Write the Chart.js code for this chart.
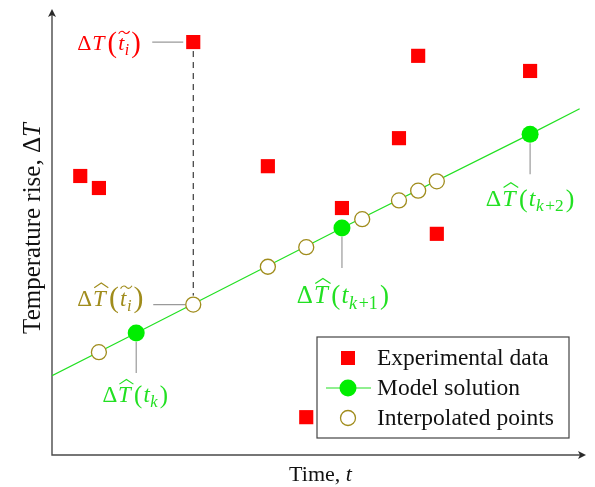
<!DOCTYPE html>
<html>
<head>
<meta charset="utf-8">
<script src="https://cdn.jsdelivr.net/npm/chart.js@4"></script>
<style>
  html, body { margin: 0; padding: 0; background: #fff; }
  #wrap { width: 595px; height: 487px; }
</style>
</head>
<body>
<div id="wrap"><canvas id="chart" width="595" height="487"></canvas></div>
<script>
// measured temperature rise
let expT = [5.3, 8.8, 26.5, 40.5, 47.7, 54.4, 65.1, 68.7, 72.2, 89.7];
let expDT = [62.7, 60.0, 92.8, 64.9, 8.5, 55.5, 71.2, 89.7, 49.7, 86.3];
// model solution (line ends + solver steps t_k, t_k+1, t_k+2)
let modelT = [0, 15.8, 54.4, 89.7, 99];
let modelDT = [17.8, 27.4, 51.0, 72.1, 77.8];
// model interpolated at the measurement times
let interpT = [8.8, 26.5, 40.5, 47.7, 58.2, 65.1, 68.7, 72.2];
let interpDT = [23.1, 33.8, 42.3, 46.7, 53.0, 57.2, 59.4, 61.5];

const legendLabels = ["Experimental data", "Model solution", "Interpolated points"];
const xTitle = "Time, ";
const yTitle = "Temperature rise, Δ";

const SERIF = '"Liberation Serif", "Times New Roman", serif';
const RED = '#ff0000', GREEN = '#00ee00', LINEGREEN = '#22e022', OLIVE = '#a08c1c';

const toXY = (xs, ys) => xs.map((x, i) => ({x: x, y: ys[i]}));

// ΔT(t_i) style labels, with optional hat over T and tilde over t_i
function mathLabel(ctx, x, y, size, color, sub, hat, tilde, center) {
  const big = tilde ? 1.3 : 1.08;
  const pieces = [
    {s: 'Δ', f: `${size}px ${SERIF}`, gap: size * 0.04},
    {s: 'T', f: `italic ${size}px ${SERIF}`, key: 'T', gap: size * 0.14},
    {s: '(', f: `${size * big}px ${SERIF}`, dy: tilde ? size * 0.07 : size * 0.02, gap: size * 0.05},
    {s: 't', f: `italic ${size}px ${SERIF}`, key: 'arg0', gap: size * 0.02}
  ];
  sub.forEach((p, i) => pieces.push({s: p[0], f: `${p[1] ? 'italic ' : ''}${size * 0.72}px ${SERIF}`, dy: size * 0.22,
    pre: p[1] ? 0 : size * 0.04, gap: size * 0.03, key: i === sub.length - 1 ? 'arg1' : null}));
  pieces.push({s: ')', f: `${size * big}px ${SERIF}`, dy: tilde ? size * 0.07 : size * 0.02, pre: size * 0.06});
  ctx.save();
  let w = 0;
  pieces.forEach(p => { ctx.font = p.f; p.w = ctx.measureText(p.s).width; w += p.w + (p.gap || 0) + (p.pre || 0); });
  let cx = center ? x - w / 2 : x;
  const pos = {};
  ctx.fillStyle = color; ctx.strokeStyle = color;
  ctx.textAlign = 'left'; ctx.textBaseline = 'alphabetic';
  pieces.forEach(p => {
    cx += p.pre || 0;
    ctx.font = p.f;
    ctx.fillText(p.s, cx, y + (p.dy || 0));
    if (p.key) pos[p.key] = {x: cx, w: p.w};
    cx += p.w + (p.gap || 0);
  });
  ctx.lineWidth = size * 0.05;
  if (hat) {
    const t = pos.T;
    ctx.beginPath();
    ctx.moveTo(t.x + t.w * 0.1, y - size * 0.78);
    ctx.lineTo(t.x + t.w * 0.65, y - size * 0.98);
    ctx.lineTo(t.x + t.w * 1.2, y - size * 0.78);
    ctx.stroke();
  }
  if (tilde) {
    const x0 = pos.arg0.x + size * 0.02, x1 = pos.arg1.x + pos.arg1.w + size * 0.02;
    const yy = y - size * 0.8, a = size * 0.06, m = (x0 + x1) / 2;
    ctx.beginPath();
    ctx.moveTo(x0, yy + a);
    ctx.bezierCurveTo(x0 + (m - x0) * 0.4, yy - a * 1.6, m - (m - x0) * 0.2, yy - a, m, yy);
    ctx.bezierCurveTo(m + (x1 - m) * 0.2, yy + a, x1 - (x1 - m) * 0.4, yy + a * 1.6, x1, yy - a);
    ctx.stroke();
  }
  ctx.restore();
}

const sketchPlugin = {
  id: 'sketch',
  beforeDatasetsDraw(chart) {
    const ctx = chart.ctx, a = chart.chartArea;
    ctx.save();
    // axes with arrow heads
    ctx.strokeStyle = '#4a4a4a'; ctx.fillStyle = '#2a2a2a'; ctx.lineWidth = 1.4;
    ctx.beginPath();
    ctx.moveTo(a.left, a.top + 2); ctx.lineTo(a.left, a.bottom); ctx.lineTo(a.right - 2, a.bottom);
    ctx.stroke();
    ctx.beginPath();
    ctx.moveTo(a.left, a.top - 1); ctx.lineTo(a.left - 4, a.top + 7); ctx.lineTo(a.left, a.top + 5); ctx.lineTo(a.left + 4, a.top + 7); ctx.closePath();
    ctx.fill();
    ctx.beginPath();
    ctx.moveTo(a.right + 1, a.bottom); ctx.lineTo(a.right - 7, a.bottom - 4); ctx.lineTo(a.right - 5, a.bottom); ctx.lineTo(a.right - 7, a.bottom + 4); ctx.closePath();
    ctx.fill();

    const red = chart.getDatasetMeta(0).data[2];
    const mdl = chart.getDatasetMeta(1).data;
    const itp = chart.getDatasetMeta(2).data[1];
    // pointer lines
    ctx.strokeStyle = '#9a9a9a'; ctx.lineWidth = 1.2;
    ctx.beginPath();
    ctx.moveTo(red.x - 41, red.y); ctx.lineTo(red.x - 10, red.y);
    ctx.moveTo(itp.x - 40, itp.y); ctx.lineTo(itp.x - 8, itp.y);
    [1, 2, 3].forEach(i => { ctx.moveTo(mdl[i].x, mdl[i].y + 9); ctx.lineTo(mdl[i].x, mdl[i].y + 40); });
    ctx.stroke();
    // residual between measurement and interpolated model value
    ctx.strokeStyle = '#111'; ctx.lineWidth = 1;
    ctx.setLineDash([6, 5]);
    ctx.beginPath();
    ctx.moveTo(red.x, red.y + 9); ctx.lineTo(red.x, itp.y - 9);
    ctx.stroke();
    ctx.restore();
  },
  afterDraw(chart) {
    const ctx = chart.ctx, a = chart.chartArea;
    const red = chart.getDatasetMeta(0).data[2];
    const mdl = chart.getDatasetMeta(1).data;
    const itp = chart.getDatasetMeta(2).data[1];

    mathLabel(ctx, red.x - 116, red.y + 8, 22, RED, [['i', true]], false, true, false);
    mathLabel(ctx, itp.x - 116, itp.y + 1, 23, OLIVE, [['i', true]], true, true, false);
    mathLabel(ctx, mdl[1].x - 1, mdl[1].y + 69, 23, LINEGREEN, [['k', true]], true, false, true);
    mathLabel(ctx, mdl[2].x + 1, mdl[2].y + 75, 25, LINEGREEN, [['k', true], ['+1', false]], true, false, true);
    mathLabel(ctx, mdl[3].x, mdl[3].y + 72, 24, LINEGREEN, [['k', true], ['+2', false]], true, false, true);

    ctx.save();
    // axis titles
    ctx.fillStyle = '#111';
    ctx.textBaseline = 'alphabetic';
    ctx.font = `22px ${SERIF}`;
    const w1 = ctx.measureText(xTitle).width;
    ctx.font = `italic 22px ${SERIF}`;
    const w2 = ctx.measureText('t').width;
    let tx = (a.left + a.right) / 2 + 2 - (w1 + w2) / 2;
    ctx.textAlign = 'left';
    ctx.font = `22px ${SERIF}`; ctx.fillText(xTitle, tx, a.bottom + 26);
    ctx.font = `italic 22px ${SERIF}`; ctx.fillText('t', tx + w1, a.bottom + 26);

    ctx.translate(a.left - 12, (a.top + a.bottom) / 2 - 4);
    ctx.rotate(-Math.PI / 2);
    ctx.font = `25px ${SERIF}`;
    const v1 = ctx.measureText(yTitle).width;
    ctx.font = `italic 25px ${SERIF}`;
    const v2 = ctx.measureText('T').width;
    ctx.font = `25px ${SERIF}`; ctx.fillText(yTitle, -(v1 + v2) / 2, 0);
    ctx.font = `italic 25px ${SERIF}`; ctx.fillText('T', -(v1 + v2) / 2 + v1, 0);
    ctx.restore();

    // legend box
    ctx.save();
    const bx = 317, by = 337, bw = 252, bh = 101;
    ctx.fillStyle = '#fff'; ctx.fillRect(bx, by, bw, bh);
    ctx.strokeStyle = '#444'; ctx.lineWidth = 1.2; ctx.strokeRect(bx, by, bw, bh);
    const mx = bx + 31, rows = [by + 21, by + 51, by + 81];
    ctx.fillStyle = RED; ctx.fillRect(mx - 7, rows[0] - 7, 14, 14);
    ctx.strokeStyle = LINEGREEN; ctx.lineWidth = 1.2;
    ctx.beginPath(); ctx.moveTo(mx - 22, rows[1]); ctx.lineTo(mx + 23, rows[1]); ctx.stroke();
    ctx.fillStyle = GREEN; ctx.beginPath(); ctx.arc(mx, rows[1], 8.5, 0, Math.PI * 2); ctx.fill();
    ctx.fillStyle = '#fff'; ctx.strokeStyle = OLIVE; ctx.lineWidth = 1.3;
    ctx.beginPath(); ctx.arc(mx, rows[2], 7.5, 0, Math.PI * 2); ctx.fill(); ctx.stroke();
    ctx.fillStyle = '#111'; ctx.font = `23.5px ${SERIF}`; ctx.textAlign = 'left'; ctx.textBaseline = 'alphabetic';
    legendLabels.forEach((s, i) => ctx.fillText(s, bx + 60, rows[i] + 7));
    ctx.restore();
  }
};

new Chart(document.getElementById('chart'), {
  type: 'scatter',
  data: {
    datasets: [
      {
        label: legendLabels[0],
        data: toXY(expT, expDT),
        pointStyle: 'rect',
        pointRadius: 10,
        backgroundColor: RED,
        borderWidth: 0,
        order: 0
      },
      {
        label: legendLabels[1],
        data: toXY(modelT, modelDT),
        showLine: true,
        borderColor: LINEGREEN,
        borderWidth: 1.2,
        pointRadius: [0, 8.5, 8.5, 8.5, 0],
        pointBackgroundColor: GREEN,
        pointBorderWidth: 0,
        order: 2
      },
      {
        label: legendLabels[2],
        data: toXY(interpT, interpDT),
        pointRadius: 7.5,
        pointBackgroundColor: '#fff',
        pointBorderColor: OLIVE,
        pointBorderWidth: 1.3,
        order: 1
      }
    ]
  },
  options: {
    responsive: false,
    animation: false,
    events: [],
    layout: { padding: { left: 52, right: 10, top: 10, bottom: 32 } },
    scales: {
      x: { type: 'linear', min: 0, max: 100, display: false },
      y: { type: 'linear', min: 0, max: 100, display: false }
    },
    plugins: { legend: { display: false }, tooltip: { enabled: false } }
  },
  plugins: [sketchPlugin]
});
</script>
</body>
</html>
